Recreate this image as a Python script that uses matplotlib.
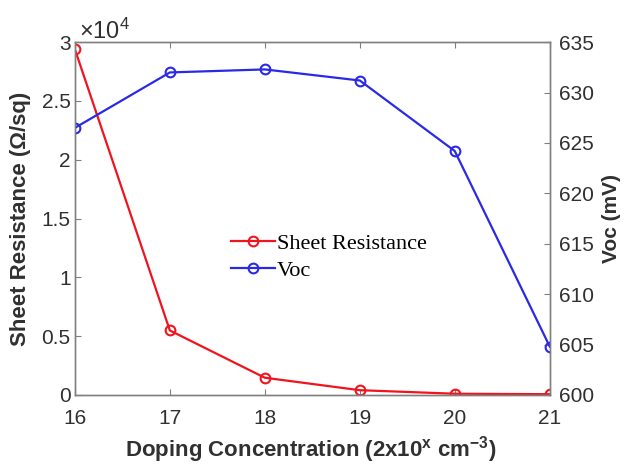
import numpy as np
import matplotlib
matplotlib.use('Agg')
import matplotlib.pyplot as plt
from matplotlib.ticker import FuncFormatter, MultipleLocator

# doping exponent (2x10^x cm^-3)
doping = [16, 17, 18, 19, 20, 21]
sheet_res = [29400, 5480, 1460, 400, 100, 60]   # ohm/sq
voc = [626.5, 632.0, 632.3, 631.2, 624.2, 604.8]  # mV

plt.rcParams['font.family'] = ['Liberation Sans', 'DejaVu Sans']
plt.rcParams['mathtext.fontset'] = 'custom'
plt.rcParams['mathtext.rm'] = 'Liberation Sans'
grey = '#808080'
txt = '#303030'

W, H = 624, 469
fig = plt.figure(figsize=(W / 100, H / 100), dpi=100)
ax = fig.add_axes([0.120, 0.158, 0.761, 0.752])
ax2 = ax.twinx()

l1, = ax.plot(doping, sheet_res, '-o', color='#f0141e', lw=1.6, ms=7,
              mfc='none', mew=1.5, label='Sheet Resistance')
l2, = ax2.plot(doping, voc, '-o', color='#2a2ae6', lw=1.6, ms=7,
               mfc='none', mew=1.5, label='Voc')

ax.set_xlim(16, 21)
ax.set_ylim(0, 30000)
ax2.set_ylim(600, 635)
ax.yaxis.set_major_locator(MultipleLocator(5000))
ax2.yaxis.set_major_locator(MultipleLocator(5))
# left axis shown in units of 1e4 with a separate multiplier label
ax.yaxis.set_major_formatter(FuncFormatter(lambda v, p: '%g' % (v / 1e4)))
fig.text(79 / W, 1 - 31 / H, r'$\times\mathregular{10^4}$',
         fontsize=17, color=txt, ha='left', va='center')

for a in (ax, ax2):
    for s in a.spines.values():
        s.set_color(grey)
        s.set_linewidth(1.0)
    a.tick_params(direction='in', length=4, colors=grey, labelcolor=txt,
                  labelsize=15, width=0.8)
ax.tick_params(top=True, right=False)
ax.tick_params(axis='x', pad=10)
ax.tick_params(axis='y', pad=3)
ax2.tick_params(left=False, right=True, pad=7)

ax.set_xlabel('Doping Concentration (2x10$^{\\mathregular{x}}$ cm$^{\\mathregular{-3}}$)',
              fontsize=16, fontweight='bold', color=txt)
ax.set_ylabel('Sheet Resistance (\u03a9/sq)', fontsize=16, fontweight='bold',
              color=txt)
ax2.set_ylabel('Voc (mV)', fontsize=15, fontweight='bold', color=txt)

# label placement in pixel terms relative to the axes box
bx0, bx1 = 75, 550
by0, by1 = 42, 395
ax.xaxis.set_label_coords((311 - bx0) / (bx1 - bx0), -(450 - by1) / (by1 - by0))
ax.yaxis.set_label_coords(-(bx0 - 21) / (bx1 - bx0), 0.5)
ax2.yaxis.set_label_coords(1 + (612 - bx1) / (bx1 - bx0), 0.5)
for lab in (ax.xaxis.label, ax.yaxis.label, ax2.yaxis.label):
    lab.set_verticalalignment('center')

ax.legend([l1, l2], ['Sheet Resistance', 'Voc'], loc='center left',
          bbox_to_anchor=(0.31, 0.39), frameon=False, handlelength=2.0,
          handletextpad=0.05, labelspacing=0.3, borderaxespad=0,
          prop={'family': 'Liberation Serif', 'size': 16})

fig.savefig('out.png', dpi=100)
